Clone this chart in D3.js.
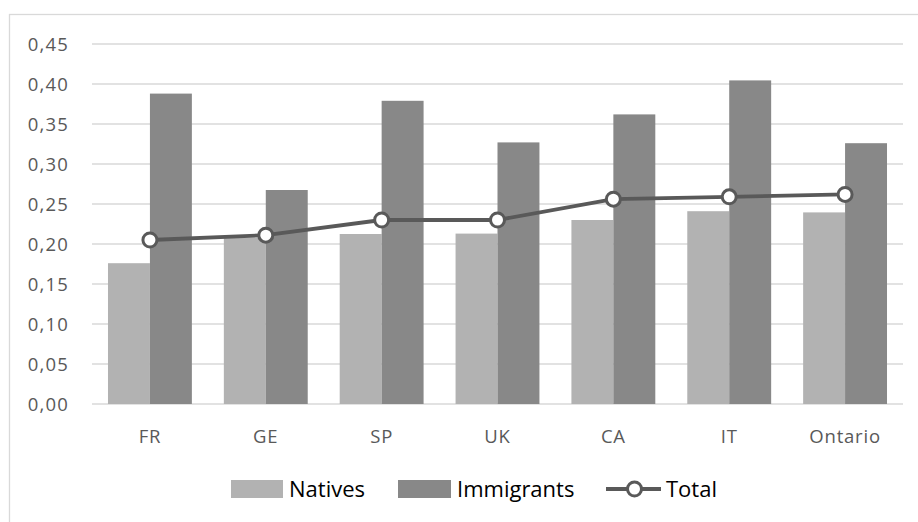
<!DOCTYPE html>
<html>
<head>
<meta charset="utf-8">
<script src="https://cdn.jsdelivr.net/npm/d3@7/dist/d3.min.js"></script>
<style>
  html, body { margin: 0; padding: 0; background: #fff; }
  svg { display: block; }
</style>
</head>
<body>
<svg id="chart" width="918" height="522"></svg>
<script>
// Regions compared
const categories = ["FR", "GE", "SP", "UK", "CA", "IT", "Ontario"];
// Series values
const natives    = [0.176, 0.208, 0.2125, 0.213, 0.230, 0.241, 0.2395];
const immigrants = [0.388, 0.2675, 0.379, 0.327, 0.362, 0.4045, 0.326];
const total      = [0.205, 0.211, 0.230, 0.230, 0.256, 0.259, 0.262];
// Y axis ticks
const yTicks = [0, 0.05, 0.10, 0.15, 0.20, 0.25, 0.30, 0.35, 0.40, 0.45];
const seriesNames = ["Natives", "Immigrants", "Total"];

const colNatives = "#b2b2b2";
const colImm = "#888888";
const colLine = "#595959";
const colGrid = "#d9d9d9";
const fontFam = "'Open Sans', 'Noto Sans', sans-serif";

const svg = d3.select("#chart");

// Chart area border
svg.append("rect")
  .attr("x", 9.5).attr("y", 14.5)
  .attr("width", 1000).attr("height", 600)
  .attr("fill", "#fff").attr("stroke", colGrid).attr("stroke-width", 1.3);

const plot = { left: 92, right: 903, top: 44, bottom: 404 };

const x = d3.scaleBand()
  .domain(categories)
  .range([plot.left, plot.right])
  .paddingInner(0.276)
  .paddingOuter(0.138);

const y = d3.scaleLinear()
  .domain([0, 0.45])
  .range([plot.bottom, plot.top]);

// Horizontal gridlines
svg.append("g")
  .selectAll("line")
  .data(yTicks)
  .join("line")
  .attr("x1", plot.left).attr("x2", plot.right)
  .attr("y1", d => y(d)).attr("y2", d => y(d))
  .attr("stroke", colGrid).attr("stroke-width", 1.5);

// Y axis labels
const yAxis = d3.axisLeft(y)
  .tickValues(yTicks)
  .tickSize(0)
  .tickPadding(0)
  .tickFormat(d => d3.format(".2f")(d).replace(".", ","));
const yg = svg.append("g")
  .attr("transform", `translate(${plot.left - 23},0)`)
  .call(yAxis);
yg.select(".domain").remove();
yg.selectAll("text")
  .attr("fill", colLine)
  .style("font-family", fontFam)
  .style("font-size", "18.5px")
  .style("letter-spacing", "1.2px")
  .attr("dy", "0.36em");

// X axis labels
const xAxis = d3.axisBottom(x).tickSize(0).tickPadding(0);
const xg = svg.append("g")
  .attr("transform", `translate(0,${plot.bottom})`)
  .call(xAxis);
xg.select(".domain").remove();
xg.selectAll("text")
  .attr("fill", colLine)
  .attr("y", 39)
  .attr("dy", 0)
  .style("font-family", fontFam)
  .style("font-size", "18.5px")
  .style("letter-spacing", "0.8px");

// Grouped bars
const sub = d3.scaleBand()
  .domain(["natives", "immigrants"])
  .range([0, x.bandwidth()])
  .padding(0);

const rows = categories.map((c, i) => ({ c, natives: natives[i], immigrants: immigrants[i] }));
const groups = svg.append("g")
  .selectAll("g")
  .data(rows)
  .join("g")
  .attr("transform", d => `translate(${x(d.c)},0)`);

groups.append("rect")
  .attr("x", sub("natives"))
  .attr("width", sub.bandwidth())
  .attr("y", d => y(d.natives))
  .attr("height", d => y(0) - y(d.natives))
  .attr("fill", colNatives);

groups.append("rect")
  .attr("x", sub("immigrants"))
  .attr("width", sub.bandwidth())
  .attr("y", d => y(d.immigrants))
  .attr("height", d => y(0) - y(d.immigrants))
  .attr("fill", colImm);

// Total line with markers
const cx = c => x(c) + x.bandwidth() / 2;
const line = d3.line()
  .x((d, i) => cx(categories[i]))
  .y(d => y(d));

svg.append("path")
  .datum(total)
  .attr("d", line)
  .attr("fill", "none")
  .attr("stroke", colLine)
  .attr("stroke-width", 3.8)
  .attr("stroke-linejoin", "round");

svg.append("g")
  .selectAll("circle")
  .data(total)
  .join("circle")
  .attr("cx", (d, i) => cx(categories[i]))
  .attr("cy", d => y(d))
  .attr("r", 7)
  .attr("fill", "#fff")
  .attr("stroke", colLine)
  .attr("stroke-width", 3);

// Legend
const legend = svg.append("g");
const legY = 489;
const legendFont = { family: fontFam, size: "22px" };

legend.append("rect")
  .attr("x", 231).attr("y", legY - 9).attr("width", 52).attr("height", 18)
  .attr("fill", colNatives);
legend.append("text")
  .attr("x", 289).attr("y", legY).attr("dy", "0.36em")
  .text(seriesNames[0]);

legend.append("rect")
  .attr("x", 398).attr("y", legY - 9).attr("width", 53).attr("height", 18)
  .attr("fill", colImm);
legend.append("text")
  .attr("x", 457).attr("y", legY).attr("dy", "0.36em")
  .text(seriesNames[1]);

legend.append("line")
  .attr("x1", 606).attr("x2", 661).attr("y1", legY).attr("y2", legY)
  .attr("stroke", colLine).attr("stroke-width", 3.8);
legend.append("circle")
  .attr("cx", 634.5).attr("cy", legY).attr("r", 7)
  .attr("fill", "#fff").attr("stroke", colLine).attr("stroke-width", 3);
legend.append("text")
  .attr("x", 666).attr("y", legY).attr("dy", "0.36em")
  .text(seriesNames[2]);

legend.selectAll("text")
  .attr("fill", "#000")
  .style("font-family", legendFont.family)
  .style("font-size", legendFont.size);
</script>
</body>
</html>
